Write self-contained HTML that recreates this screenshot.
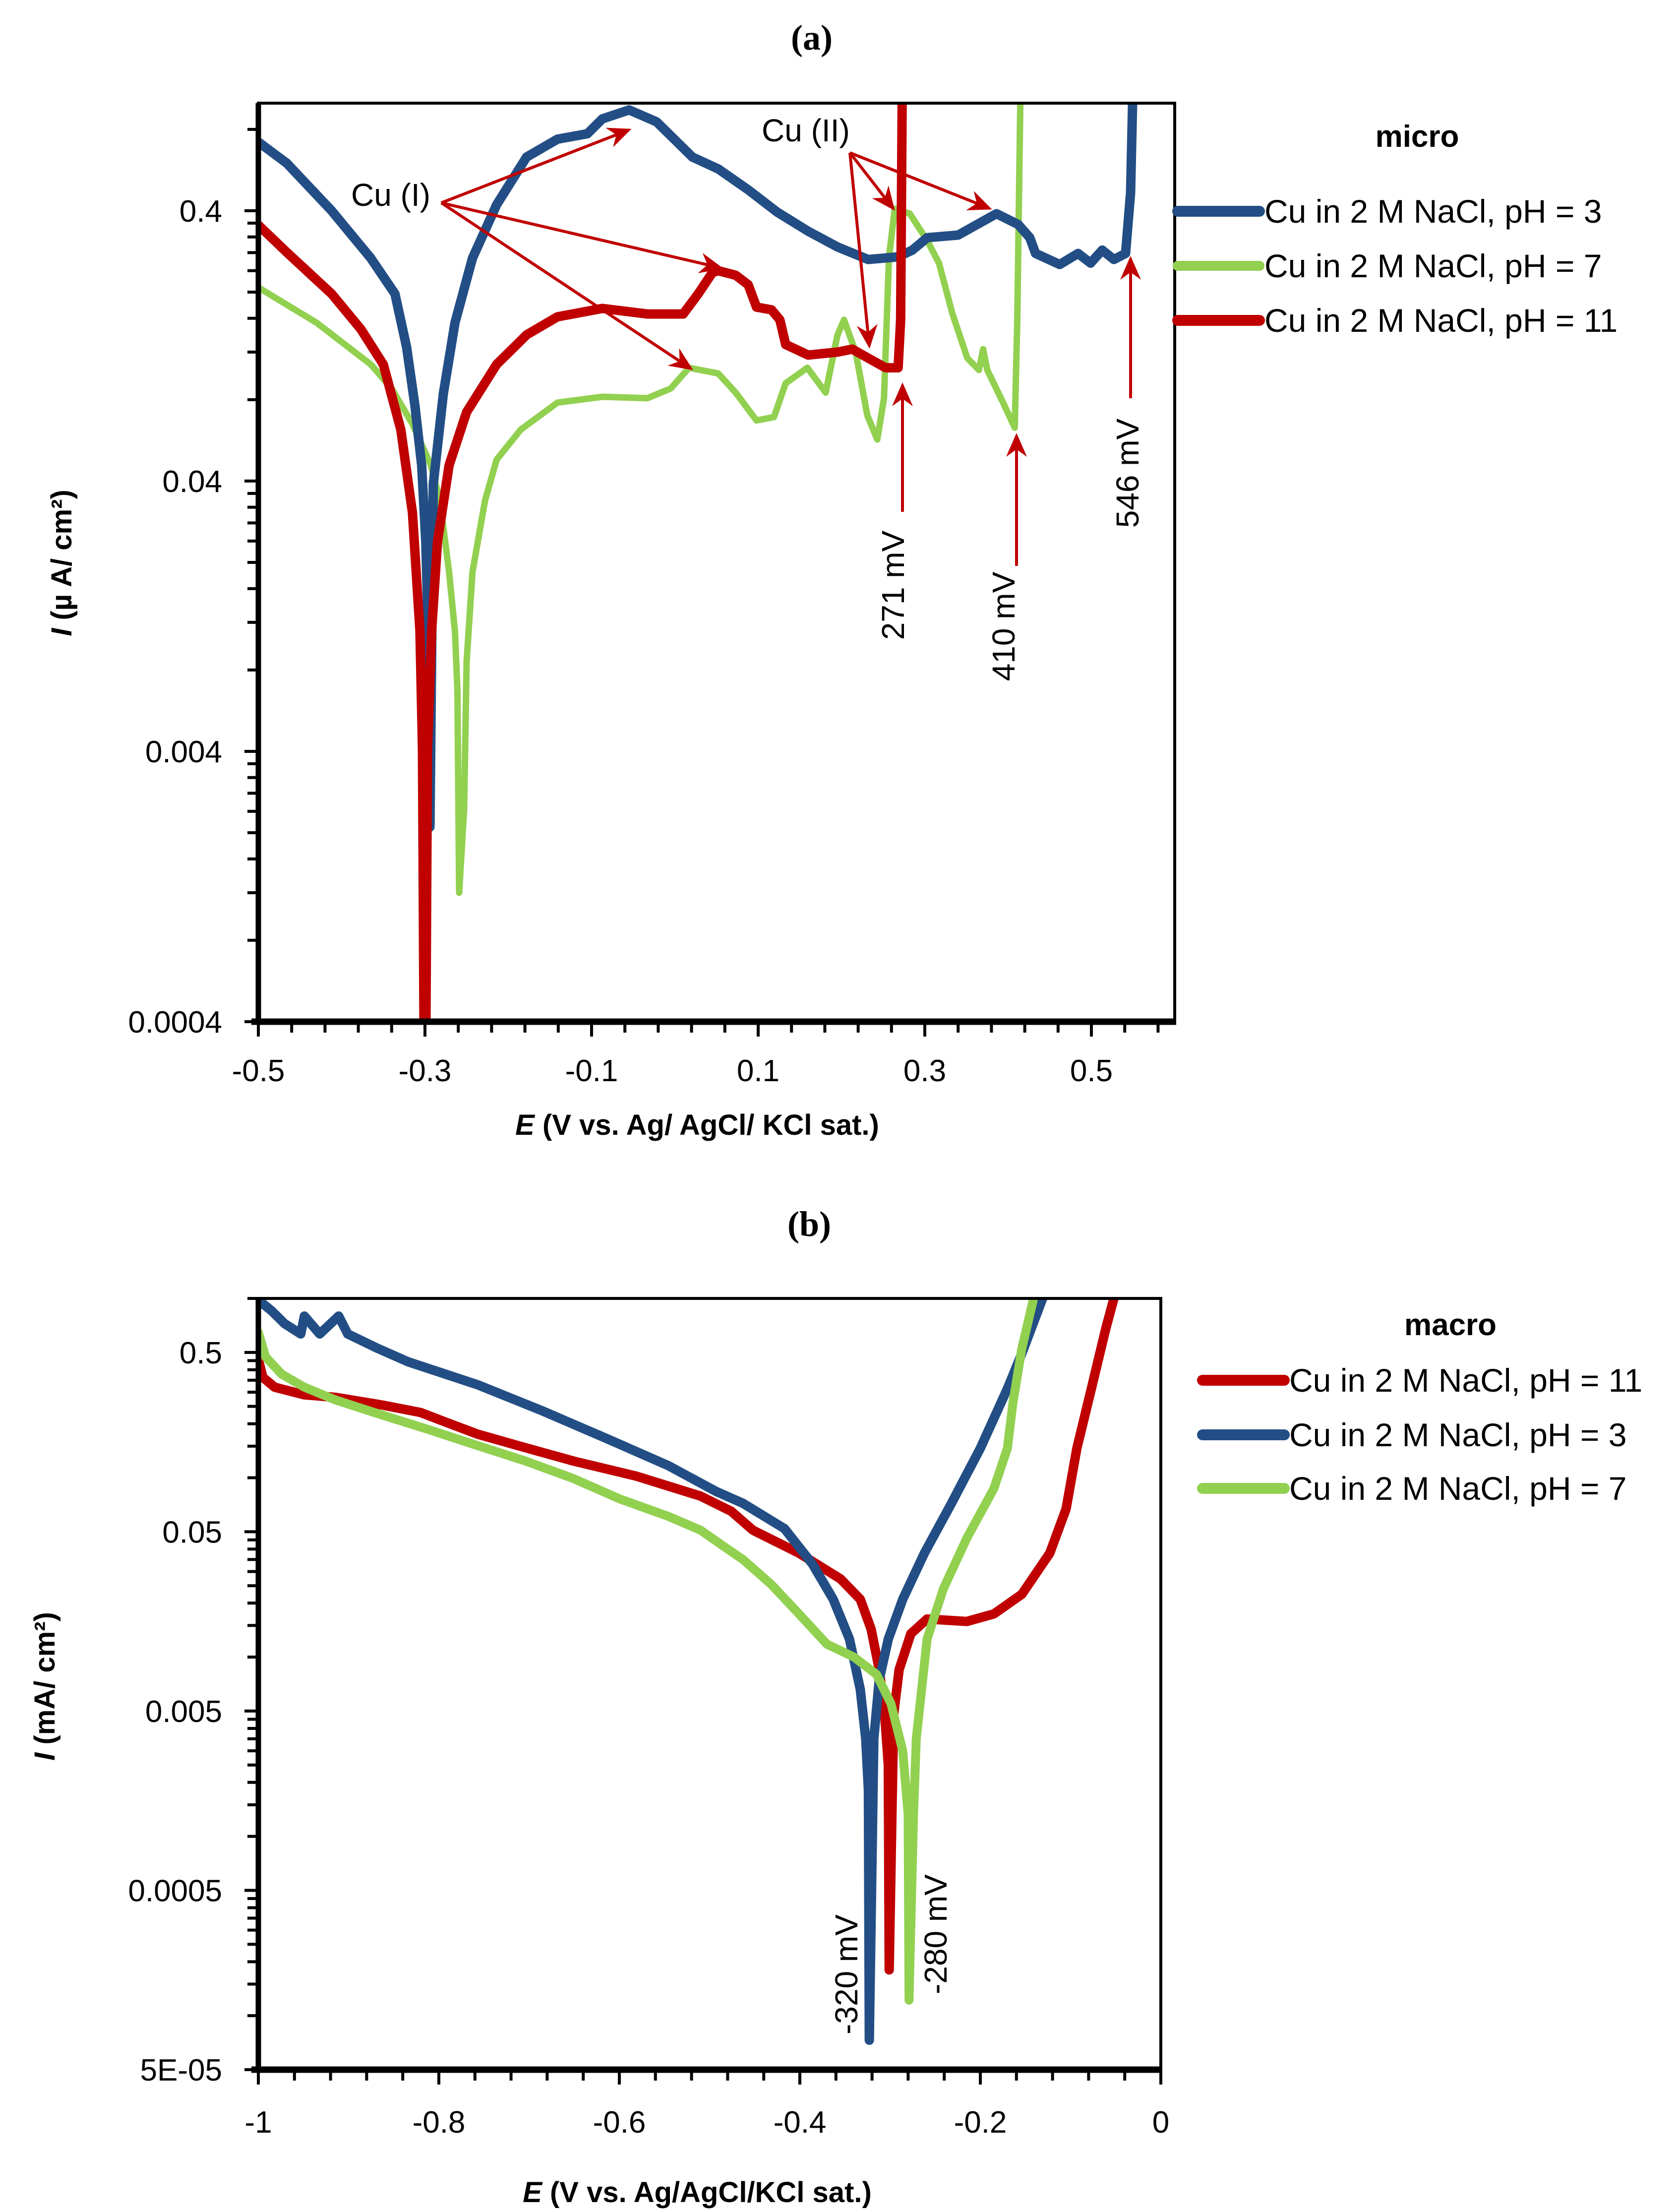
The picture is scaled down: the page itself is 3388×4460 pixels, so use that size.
<!DOCTYPE html>
<html><head><meta charset="utf-8"><style>
html,body{margin:0;padding:0;background:#fff;}
svg{display:block;}
text{font-family:"Liberation Sans",sans-serif;}
</style></head><body>
<svg id="fig" xmlns="http://www.w3.org/2000/svg" width="3388" height="4460" viewBox="0 0 3388 4460">
<defs>
<marker id="ah" markerWidth="8" markerHeight="8" refX="7" refY="4" orient="auto" markerUnits="strokeWidth">
<path d="M0,0.5 L8,4 L0,7.5 L2.5,4 Z" fill="#C00000"/>
</marker>
<clipPath id="clipA"><rect x="521" y="208" width="1848" height="1852"/></clipPath>
<clipPath id="clipB"><rect x="521" y="2618" width="1820" height="1555"/></clipPath>
</defs>
<text x="1637" y="100" font-weight="bold" font-size="72" text-anchor="middle" style="font-family:'Liberation Serif',serif">(a)</text>
<text x="1632" y="2492" font-weight="bold" font-size="72" text-anchor="middle" style="font-family:'Liberation Serif',serif">(b)</text>
<g id="chartA"></g>
<g id="chartB"></g>
</svg>
<script>
// ---------- Chart (a) data: micro ----------
const aBlueE = [-0.5,-0.466,-0.412,-0.365,-0.336,-0.322,-0.312,-0.304,-0.299,-0.296,-0.294,-0.290,-0.278,-0.264,-0.243,-0.214,-0.178,-0.141,-0.105,-0.087,-0.055,-0.022,0.021,0.052,0.088,0.123,0.160,0.195,0.232,0.268,0.285,0.303,0.340,0.386,0.412,0.426,0.433,0.462,0.484,0.499,0.513,0.527,0.541,0.547,0.550];
const aBlueI = [0.718,0.600,0.400,0.267,0.197,0.125,0.076,0.0458,0.0238,0.0111,0.0021,0.039,0.084,0.154,0.267,0.421,0.632,0.736,0.771,0.875,0.944,0.853,0.632,0.571,0.478,0.395,0.336,0.294,0.264,0.27,0.286,0.318,0.325,0.39,0.356,0.318,0.278,0.253,0.278,0.256,0.286,0.264,0.278,0.466,1.2];
const aGreenE = [-0.5,-0.430,-0.365,-0.340,-0.315,-0.293,-0.282,-0.271,-0.264,-0.261,-0.259,-0.253,-0.250,-0.243,-0.228,-0.214,-0.185,-0.141,-0.087,-0.033,-0.005,0.017,0.052,0.073,0.098,0.119,0.133,0.159,0.181,0.195,0.203,0.217,0.231,0.243,0.251,0.257,0.264,0.282,0.303,0.317,0.333,0.351,0.365,0.370,0.375,0.394,0.408,0.411,0.415];
const aGreenI = [0.208,0.154,0.108,0.088,0.065,0.0458,0.0338,0.0184,0.0111,0.0067,0.0012,0.00245,0.0086,0.0184,0.0338,0.048,0.062,0.078,0.082,0.081,0.088,0.105,0.1,0.085,0.067,0.069,0.092,0.105,0.085,0.138,0.158,0.12,0.070,0.057,0.081,0.27,0.407,0.39,0.31,0.256,0.167,0.114,0.103,0.123,0.103,0.078,0.063,0.158,1.2];
const aRedE = [-0.5,-0.466,-0.412,-0.377,-0.350,-0.329,-0.315,-0.306,-0.303,-0.301,-0.299,-0.297,-0.292,-0.285,-0.271,-0.250,-0.214,-0.178,-0.141,-0.087,-0.033,0.010,0.028,0.045,0.052,0.073,0.088,0.098,0.116,0.126,0.133,0.160,0.195,0.213,0.232,0.253,0.268,0.271,0.273];
const aRedI = [0.354,0.281,0.197,0.146,0.108,0.062,0.0305,0.0111,0.00405,0.0003,0.0003,0.004,0.0111,0.0238,0.0458,0.072,0.108,0.139,0.162,0.174,0.166,0.166,0.197,0.236,0.24,0.231,0.213,0.176,0.172,0.158,0.128,0.117,0.12,0.123,0.114,0.105,0.105,0.158,1.2];
const aXTicks = [-0.5,-0.3,-0.1,0.1,0.3,0.5];
const aXTickLabels = ["-0.5","-0.3","-0.1","0.1","0.3","0.5"];
const aYTicks = [0.4,0.04,0.004,0.0004];
const aYTickLabels = ["0.4","0.04","0.004","0.0004"];
const aLegendLabels = ["Cu in 2 M NaCl, pH = 3","Cu in 2 M NaCl, pH = 7","Cu in 2 M NaCl, pH = 11"];

// ---------- Chart (b) data: macro ----------
const bBlueE = [-1.0,-0.985,-0.971,-0.953,-0.949,-0.932,-0.911,-0.901,-0.869,-0.834,-0.757,-0.687,-0.616,-0.546,-0.493,-0.463,-0.417,-0.386,-0.363,-0.345,-0.333,-0.327,-0.324,-0.323,-0.318,-0.312,-0.302,-0.286,-0.262,-0.232,-0.200,-0.170,-0.154,-0.131];
const bBlueI = [0.98,0.85,0.724,0.634,0.797,0.634,0.797,0.634,0.53,0.443,0.33,0.238,0.167,0.117,0.084,0.072,0.052,0.033,0.021,0.0126,0.0066,0.0035,0.0018,0.000073,0.0035,0.0075,0.0126,0.021,0.038,0.072,0.146,0.314,0.493,1.0];
const bRedE = [-1.0,-0.995,-0.982,-0.949,-0.915,-0.862,-0.820,-0.791,-0.757,-0.704,-0.651,-0.581,-0.510,-0.476,-0.452,-0.401,-0.355,-0.333,-0.321,-0.312,-0.306,-0.302,-0.301,-0.296,-0.290,-0.277,-0.259,-0.215,-0.185,-0.154,-0.123,-0.105,-0.093,-0.077,-0.061,-0.052];
const bRedI = [0.457,0.363,0.32,0.29,0.281,0.254,0.231,0.203,0.175,0.147,0.124,0.102,0.079,0.065,0.051,0.038,0.0273,0.021,0.0143,0.0085,0.0048,0.0025,0.00018,0.0048,0.0085,0.0135,0.0163,0.0158,0.0174,0.0224,0.038,0.067,0.146,0.314,0.679,1.0];
const bGreenE = [-1.0,-0.992,-0.974,-0.949,-0.915,-0.862,-0.809,-0.757,-0.704,-0.651,-0.599,-0.546,-0.510,-0.483,-0.463,-0.432,-0.401,-0.370,-0.340,-0.315,-0.299,-0.286,-0.280,-0.279,-0.274,-0.271,-0.259,-0.241,-0.215,-0.185,-0.170,-0.164,-0.154,-0.141];
const bGreenI = [0.646,0.472,0.378,0.32,0.272,0.223,0.184,0.151,0.124,0.099,0.076,0.061,0.051,0.041,0.035,0.0255,0.0174,0.0118,0.01,0.008,0.0055,0.003,0.00132,0.000122,0.00132,0.0035,0.0126,0.024,0.046,0.087,0.146,0.259,0.526,1.0];
const bXTicks = [-1,-0.8,-0.6,-0.4,-0.2,0];
const bXTickLabels = ["-1","-0.8","-0.6","-0.4","-0.2","0"];
const bYTicks = [0.5,0.05,0.005,0.0005,0.00005];
const bYTickLabels = ["0.5","0.05","0.005","0.0005","5E-05"];
const bLegendLabels = ["Cu in 2 M NaCl, pH = 11","Cu in 2 M NaCl, pH = 3","Cu in 2 M NaCl, pH = 7"];

const NS = "http://www.w3.org/2000/svg";
const BLUE = "#234E85", GREEN = "#92D050", RED = "#C00000";
function mk(parent, tag, attrs, txt) {
  const e = document.createElementNS(NS, tag);
  for (const k in attrs) e.setAttribute(k, attrs[k]);
  if (txt !== undefined) e.textContent = txt;
  parent.appendChild(e);
  return e;
}

const A = {x0:521, x1:2369, y0:208, y1:2060, emin:-0.5, emax:0.6, imin:0.0004, imax:1.0};
const B = {x0:521, x1:2341, y0:2618, y1:4173, emin:-1.0, emax:0.0, imin:0.00005, imax:1.0};
function sx(c, e) { return c.x0 + (e - c.emin) / (c.emax - c.emin) * (c.x1 - c.x0); }
function sy(c, i) { return c.y1 - (Math.log10(i) - Math.log10(c.imin)) / (Math.log10(c.imax) - Math.log10(c.imin)) * (c.y1 - c.y0); }

function drawFrame(g, c, name) {
  const fr = mk(g, "rect", {x:c.x0, y:c.y0, width:c.x1-c.x0, height:c.y1-c.y0, fill:"none", stroke:"#000", "stroke-width":6});
  
  
  const la = mk(g, "line", {x1:c.x0, y1:c.y0, x2:c.x0, y2:c.y1+6, stroke:"#000", "stroke-width":11});
  
  
  const ba = mk(g, "line", {x1:c.x0-14, y1:c.y1, x2:c.x1+3, y2:c.y1, stroke:"#000", "stroke-width":13});
  
  
}

function drawXTicks(g, c, step, ticks, labels, labelY, name) {
  const n = Math.floor((c.emax - c.emin) / step + 1e-6);
  for (let k = 0; k <= n; k++) {
    const e = c.emin + k * step;
    const x = sx(c, e);
    const major = ticks.some(t => Math.abs(t - e) < 1e-6);
    const t = mk(g, "line", {x1:x, y1:c.y1, x2:x, y2:c.y1 + (major ? 30 : 22), stroke:"#000", "stroke-width":6});
    
    
  }
  ticks.forEach((e, idx) => {
    const t = mk(g, "text", {x:sx(c, e), y:labelY, "font-size":62, "text-anchor":"middle", fill:"#000"}, labels[idx]);
    
    
  });
}

function drawYTicks(g, c, base, ticks, labels, name) {
  for (let d = 0; d < 8; d++) {
    for (let k = 1; k <= 9; k++) {
      const v = base * k * Math.pow(10, d);
      if (v > c.imax * 1.0001) continue;
      const y = sy(c, v);
      const t = mk(g, "line", {x1:c.x0 - (k === 1 ? 28 : 22), y1:y, x2:c.x0, y2:y, stroke:"#000", "stroke-width":6});
      
      
    }
  }
  ticks.forEach((v, idx) => {
    const t = mk(g, "text", {x:448, y:sy(c, v) + 22, "font-size":62, "text-anchor":"end", fill:"#000"}, labels[idx]);
    
    
  });
}

function drawSeries(g, c, E, I, color, width, name, clip) {
  const pts = E.map((e, i) => sx(c, e).toFixed(1) + "," + sy(c, I[i]).toFixed(1)).join(" ");
  const p = mk(g, "polyline", {points:pts, fill:"none", stroke:color, "stroke-width":width, "stroke-linejoin":"round", "stroke-linecap":"round", "clip-path":"url(#" + clip + ")"});
  
  
}

function drawLegend(g, title, tx, ty, labels, colors, widths, lx0, lx1, ys, name) {
  const t = mk(g, "text", {x:tx, y:ty, "font-size":62, "font-weight":"bold", "text-anchor":"middle"}, title);
  
  
  labels.forEach((lab, i) => {
    const eg = mk(g, "g", {});
    
    
    const l = mk(eg, "line", {x1:lx0, y1:ys[i], x2:lx1, y2:ys[i], stroke:colors[i], "stroke-width":widths[i], "stroke-linecap":"round"});
    
    
    const tt = mk(eg, "text", {x:lx1 + 10, y:ys[i] + 23, "font-size":66}, lab);
    
    
  });
}

function arrow(g, x1, y1, x2, y2, name) {
  const a = mk(g, "line", {x1:x1, y1:y1, x2:x2, y2:y2, stroke:RED, "stroke-width":6, "marker-end":"url(#ah)"});
  
  
}
function vtext(g, x, y, s, name) {
  const t = mk(g, "text", {transform:"translate(" + x + "," + y + ") rotate(-90)", "font-size":64, "text-anchor":"middle", "dominant-baseline":"central"}, s);
  
  
}

// ---------- Draw chart (a) ----------
const ga = document.getElementById("chartA");
drawSeries(ga, A, aGreenE, aGreenI, GREEN, 13, "series-ph7-micro", "clipA");
drawSeries(ga, A, aBlueE, aBlueI, BLUE, 19, "series-ph3-micro", "clipA");
drawSeries(ga, A, aRedE, aRedI, RED, 19, "series-ph11-micro", "clipA");
drawFrame(ga, A, "a");
drawXTicks(ga, A, 0.04, aXTicks, aXTickLabels, 2180, "a");
drawYTicks(ga, A, 0.0004, aYTicks, aYTickLabels, "a");
{
  const xt = mk(ga, "text", {x:1406, y:2288, "font-size":58, "font-weight":"bold", "text-anchor":"middle"});
  
  
  mk(xt, "tspan", {"font-style":"italic"}, "E");
  mk(xt, "tspan", {}, " (V vs. Ag/ AgCl/ KCl sat.)");
  const yt = mk(ga, "text", {transform:"translate(124,1135) rotate(-90)", "font-size":58, "font-weight":"bold", "text-anchor":"middle", "dominant-baseline":"central"});
  
  
  mk(yt, "tspan", {"font-style":"italic"}, "I");
  mk(yt, "tspan", {}, " (µ A/ cm²)");
}
{
  const t1 = mk(ga, "text", {x:708, y:415, "font-size":64}, "Cu (I)");
  
  
  arrow(ga, 890, 409, 1268, 262, "cu-i-arrow-ph3");
  arrow(ga, 890, 409, 1453, 540, "cu-i-arrow-ph11");
  arrow(ga, 890, 409, 1393, 743, "cu-i-arrow-ph7");
  const t2 = mk(ga, "text", {x:1536, y:285, "font-size":64}, "Cu (II)");
  
  
  arrow(ga, 1714, 308, 1801, 420, "cu-ii-arrow-1");
  arrow(ga, 1714, 308, 1995, 420, "cu-ii-arrow-2");
  arrow(ga, 1714, 308, 1753, 697, "cu-ii-arrow-3");
  arrow(ga, 1820, 1032, 1820, 777, "arrow-271mv");
  arrow(ga, 2050, 1141, 2050, 879, "arrow-410mv");
  arrow(ga, 2280, 803, 2280, 522, "arrow-546mv");
  vtext(ga, 1801, 1180, "271 mV", "label-271mv");
  vtext(ga, 2024, 1263, "410 mV", "label-410mv");
  vtext(ga, 2274, 954, "546 mV", "label-546mv");
}
drawLegend(ga, "micro", 2858, 296, aLegendLabels, [BLUE, GREEN, RED], [22, 20, 22], 2375, 2540, [426, 536, 646], "a");

// ---------- Draw chart (b) ----------
const gb = document.getElementById("chartB");
drawSeries(gb, B, bRedE, bRedI, RED, 19, "series-ph11-macro", "clipB");
drawSeries(gb, B, bBlueE, bBlueI, BLUE, 19, "series-ph3-macro", "clipB");
drawSeries(gb, B, bGreenE, bGreenI, GREEN, 18, "series-ph7-macro", "clipB");
drawFrame(gb, B, "b");
drawXTicks(gb, B, 0.04, bXTicks, bXTickLabels, 4300, "b");
drawYTicks(gb, B, 0.00005, bYTicks, bYTickLabels, "b");
{
  const xt = mk(gb, "text", {x:1406, y:4440, "font-size":58, "font-weight":"bold", "text-anchor":"middle"});
  
  
  mk(xt, "tspan", {"font-style":"italic"}, "E");
  mk(xt, "tspan", {}, " (V vs. Ag/AgCl/KCl sat.)");
  const yt = mk(gb, "text", {transform:"translate(90,3400) rotate(-90)", "font-size":58, "font-weight":"bold", "text-anchor":"middle", "dominant-baseline":"central"});
  
  
  mk(yt, "tspan", {"font-style":"italic"}, "I");
  mk(yt, "tspan", {}, " (mA/ cm²)");
  vtext(gb, 1707, 3981, "-320 mV", "label-minus320mv");
  vtext(gb, 1887, 3900, "-280 mV", "label-minus280mv");
}
drawLegend(gb, "macro", 2925, 2692, bLegendLabels, [RED, BLUE, GREEN], [22, 22, 22], 2425, 2590, [2783, 2893, 3001], "b");
</script>
</body></html>
